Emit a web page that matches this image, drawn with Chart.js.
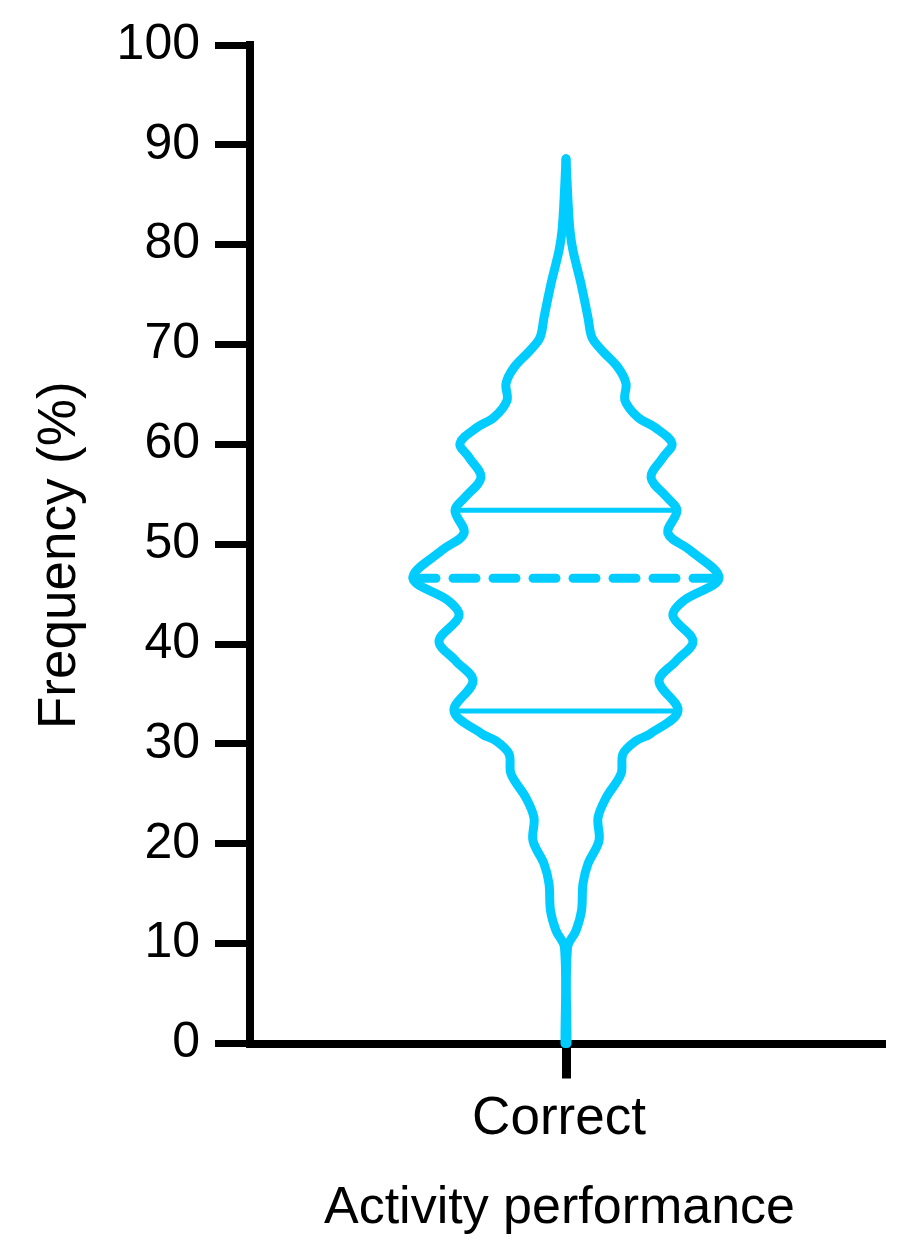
<!DOCTYPE html>
<html><head><meta charset="utf-8">
<script src="https://cdn.jsdelivr.net/npm/chart.js@4"></script>
<style>html,body{margin:0;padding:0;background:#fff}canvas{display:block}</style>
</head><body>
<canvas id="c" width="911" height="1256"></canvas>
<script>
// ---- data ----
const categories = ['Correct'];
const xTitle = 'Activity performance';
const yTitle = 'Frequency (%)';
const yTickStep = 10;
const yMin = 0, yMax = 100;
// violin outline: value (Frequency %) and half-width (density, arbitrary units)
const outlineY = [0, 9.6, 11.3, 13.3, 16.0, 18.0, 20.3, 22.6, 24.6, 27.0, 29.0, 30.3, 31.0, 33.3, 36.3, 38.3, 40.3, 42.8, 44.3, 46.6, 49.4, 51.1, 53.4, 54.7, 56.7, 58.7, 60.1, 61.7, 62.7, 64.4, 66.1, 67.7, 69.4, 70.7, 72.7, 76.1, 79.4, 81.4, 84.4, 88.6];
const outlineHalfWidth = [1, 1.5, 10, 15.5, 17, 22, 33, 32, 40, 55, 57, 70, 84, 112, 93, 110, 127, 107, 117, 153, 124, 102, 111, 101, 85, 97, 106, 89, 72, 59, 60, 52, 36, 26, 22, 15, 7, 4, 2, 0];
const quartileValues = [33.3, 53.4];
const medianValue = 46.6;

const COLOR = '#00CCFF';
const FONT = "'Liberation Sans', Arial, sans-serif";

function halfWidthAt(v) {
  for (let i = 0; i < outlineY.length - 1; i++) {
    if (v >= outlineY[i] && v <= outlineY[i + 1]) {
      const t = (v - outlineY[i]) / (outlineY[i + 1] - outlineY[i]);
      return outlineHalfWidth[i] + t * (outlineHalfWidth[i + 1] - outlineHalfWidth[i]);
    }
  }
  return 0;
}

const rightSide = outlineY.map((y, i) => ({x: outlineHalfWidth[i], y}));
const leftSide = outlineY.map((y, i) => ({x: -outlineHalfWidth[i], y}));
const hLine = v => [{x: -halfWidthAt(v), y: v}, {x: halfWidthAt(v), y: v}];

const outlineStyle = {
  borderColor: COLOR, borderWidth: 9, pointRadius: 0, tension: 0.35,
  borderCapStyle: 'round', borderJoinStyle: 'round', fill: false, clip: false
};

const datasets = [
  Object.assign({data: rightSide}, outlineStyle),
  Object.assign({data: leftSide}, outlineStyle),
  ...quartileValues.map(q => ({data: hLine(q), borderColor: COLOR, borderWidth: 5, pointRadius: 0, tension: 0, clip: false})),
  {data: hLine(medianValue), borderColor: COLOR, borderWidth: 9, pointRadius: 0, tension: 0,
   borderDash: [23, 17], borderCapStyle: 'round', clip: false}
];

// axis titles, placed as in the reference
const titlePlugin = {
  id: 'axisTitles',
  afterDraw(chart) {
    const sx = chart.scales.x, sy = chart.scales.y, ctx = chart.ctx;
    ctx.save();
    ctx.fillStyle = '#000';
    ctx.textAlign = 'center';
    ctx.textBaseline = 'alphabetic';
    ctx.font = '52px ' + FONT;
    ctx.fillText(xTitle, (sx.left + sx.right) / 2 - 8, sx.bottom - 33);
    ctx.translate(sy.left + 75, (sy.top + sy.bottom) / 2 + 11);
    ctx.rotate(-Math.PI / 2);
    ctx.font = '53px ' + FONT;
    ctx.fillText(yTitle, 0, 0);
    ctx.restore();
  }
};

new Chart(document.getElementById('c'), {
  type: 'line',
  data: {datasets},
  plugins: [titlePlugin],
  options: {
    responsive: false,
    animation: false,
    events: [],
    layout: {padding: {top: 43.5, right: 26, bottom: 0, left: 0}},
    plugins: {legend: {display: false}, tooltip: {enabled: false}},
    scales: {
      x: {
        type: 'linear', min: -316, max: 319,
        afterBuildTicks: s => { s.ticks = [{value: 0}]; },
        afterFit: s => { s.height = 1256 - 1043.5; },
        border: {display: true, width: 8, color: '#000'},
        grid: {drawOnChartArea: false, drawTicks: true, tickLength: 35, tickWidth: 9, tickColor: '#000'},
        ticks: {callback: () => categories[0], color: '#000', padding: 9, labelOffset: -7,
                font: {family: FONT, size: 53}, maxRotation: 0},
        title: {display: false}
      },
      y: {
        type: 'linear', min: yMin, max: yMax,
        afterFit: s => { s.width = 250; },
        border: {display: true, width: 8, color: '#000'},
        grid: {drawOnChartArea: false, drawTicks: true, tickLength: 35, tickWidth: 7, tickColor: '#000'},
        ticks: {stepSize: yTickStep, color: '#000', padding: 15, font: {family: FONT, size: 50}},
        title: {display: false}
      }
    }
  }
});
</script>
</body></html>
